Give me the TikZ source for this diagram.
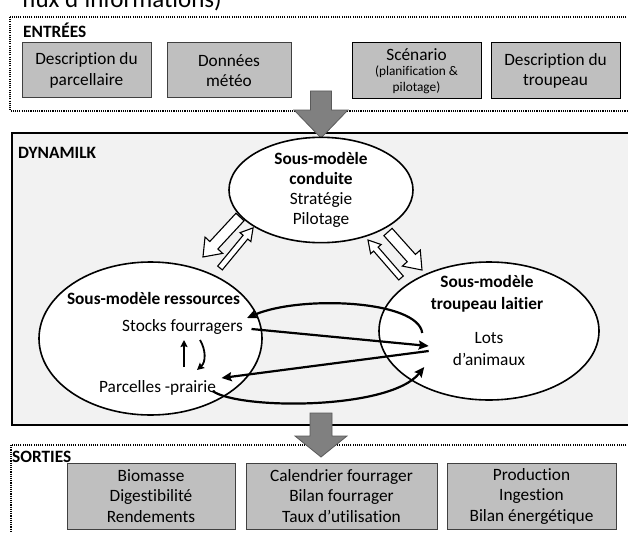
\documentclass[tikz,border=0pt]{standalone}
\usepackage{fontspec}
\setmainfont{Carlito}[Ligatures={NoCommon,NoDiscretionary}]
\usetikzlibrary{arrows.meta,shapes.geometric,calc}
\definecolor{boxgray}{HTML}{BFBFBF}
\definecolor{bggray}{HTML}{F2F2F2}
\definecolor{arrgray}{HTML}{808080}
\definecolor{arredge}{HTML}{5A5A5A}
\newcommand{\blockarr}[7]{%
\begin{scope}[shift={(#1,#2)}, rotate=#3]
\draw[blk] (0,-#5) -- ({#4-#7},-#5) -- ({#4-#7},-#6) -- (#4,0) -- ({#4-#7},#6) -- ({#4-#7},#5) -- (0,#5) -- cycle;
\end{scope}}
\begin{document}
\begin{tikzpicture}[x=1pt,y=-1pt,
  font=\fontsize{17.3}{20.5}\selectfont,
  dotbox/.style={draw=black, line width=1.1pt, dash pattern=on 1.1pt off 1.1pt},
  hd/.style={font=\fontsize{17.3}{20.5}\selectfont\bfseries, anchor=west, inner sep=0},
  inbox/.style={draw=black!75, fill=boxgray, line width=1pt, align=center, minimum height=55, inner sep=0},
  outbox/.style={draw=black!75, fill=boxgray, line width=1pt, align=center, minimum height=66, inner sep=0},
  ell/.style={ellipse, draw=black, line width=1.6pt, fill=white, inner sep=0, align=center},
  lbl/.style={inner sep=2pt, align=center},
  conn/.style={line width=2.2pt, -{Stealth[length=10pt,width=9pt,inset=1.5pt]}},
  sconn/.style={line width=1.8pt, -{Stealth[length=7pt,width=7pt,inset=1pt]}},
  bigarr/.style={draw=arredge, fill=arrgray, line width=0.8pt, line join=miter},
  blk/.style={draw=black, fill=white, line width=1.1pt, line join=miter}
]
\useasboundingbox (0,0) rectangle (628,532);
\clip (0,0) rectangle (628,532);

% partial title
\node[anchor=base west, inner sep=0, font=\fontsize{25}{30}\selectfont] (ttl) at (22,8) {flux d’informations)};

% inputs
\draw[dotbox] (10,17) rectangle (640,111);
\node[hd] (ent) at (23,30) {ENTRÉES};
\node[inbox, minimum width=129] (in1) at (86.5,70.5) {Description du\\parcellaire};
\node[inbox, minimum width=124] (in2) at (229,70.5) {Données\\météo};
\node[inbox, minimum width=129, draw=black, minimum height=56] (in3) at (416.5,71) {\raisebox{-2pt}{Scénario}\\[-3pt]{\fontsize{13.3}{15}\selectfont (planification \&}\\[-5pt]{\fontsize{13.3}{15}\selectfont pilotage)}};
\node[inbox, minimum width=129, draw=black, minimum height=56] (in4) at (555.5,71) {Description du\\troupeau};

% DYNAMILK
\node[draw=black, fill=bggray, line width=1.5pt, anchor=north west, inner sep=0, minimum width=625, minimum height=292] (dyn) at (11,132) {};
\node[hd] (dynT) at (18,153) {DYNAMILK};

% big arrow 1
\draw[bigarr] (310.5,91) -- (331.5,91) -- (331.5,110) -- (348,110) -- (321,138) -- (294,110) -- (310.5,110) -- cycle;

% ellipses
\node[ell, minimum width=184, minimum height=96, font=\fontsize{17.3}{19.8}\selectfont] (cond) at (321,190) {\textbf{Sous-modèle}\\\textbf{conduite}\\Stratégie\\Pilotage};
\node[ell, minimum width=223, minimum height=153] (res) at (150.5,338.5) {};
\node[ell, minimum width=220, minimum height=138] (trp) at (489,331) {};

\node[lbl, font=\fontsize{17.3}{20.5}\selectfont\bfseries] (resT) at (153.5,298) {Sous-modèle ressources};
\node[lbl] (stk) at (182.5,327) {Stocks fourragers};
\node[lbl] (prc) at (157.5,388) {Parcelles -prairie};
\node[lbl, font=\fontsize{17.3}{21.5}\selectfont\bfseries] (trpT) at (487,294) {Sous-modèle\\troupeau laitier};
\node[lbl, inner xsep=24pt, font=\fontsize{17.3}{22}\selectfont] (lots) at (489,349) {Lots\\d’animaux};

% connectors
\draw[conn] ([shift={(-6.5,-16)}]lots.west) .. controls +(-4,-33) and +(53,-23) .. ([shift={(2,-9)}]stk.east);
\draw[conn] ([shift={(6.5,2)}]stk.east) -- ([shift={(0,-3)}]lots.west);
\draw[conn] ([shift={(0,2)}]lots.west) -- ([shift={(3.5,-10)}]prc.east);
\draw[conn] ([shift={(-5.5,3)}]prc.east) .. controls +(27,19) and +(-34,43) .. ([shift={(-4.5,18)}]lots.west);
\draw[sconn] ([shift={(26.5,-21)}]prc.center) -- ([shift={(1.5,13)}]stk.center);
\draw[sconn] ([shift={(17.5,13)}]stk.center) .. controls +(6,10) and +(9,-8) .. ([shift={(39.5,-18)}]prc.center);

% hollow block arrows
\blockarr{240}{217}{227.2}{54.5}{5.5}{12}{16}
\blockarr{220}{268}{50.5}{52}{3}{7}{12}
\blockarr{388}{232}{-48.2}{51}{5.5}{12}{16}
\blockarr{401}{278}{131}{50.3}{3}{7}{12}

% outputs
\draw[dotbox] (11,445) rectangle (640,545);
\node[hd] (sortT) at (12,457) {SORTIES};
\node[outbox, minimum width=168] (o1) at (151,496) {Biomasse\\Digestibilité\\Rendements};
\node[outbox, minimum width=191] (o2) at (341.5,496) {Calendrier fourrager\\Bilan fourrager\\Taux d’utilisation};
\node[outbox, minimum width=169] (o3) at (531.5,496) {Production\\Ingestion\\Bilan énergétique};

% big arrow 2
\draw[bigarr] (310,413) -- (332,413) -- (332,436) -- (347,436) -- (321,457) -- (295,436) -- (310,436) -- cycle;
\end{tikzpicture}
\end{document}
